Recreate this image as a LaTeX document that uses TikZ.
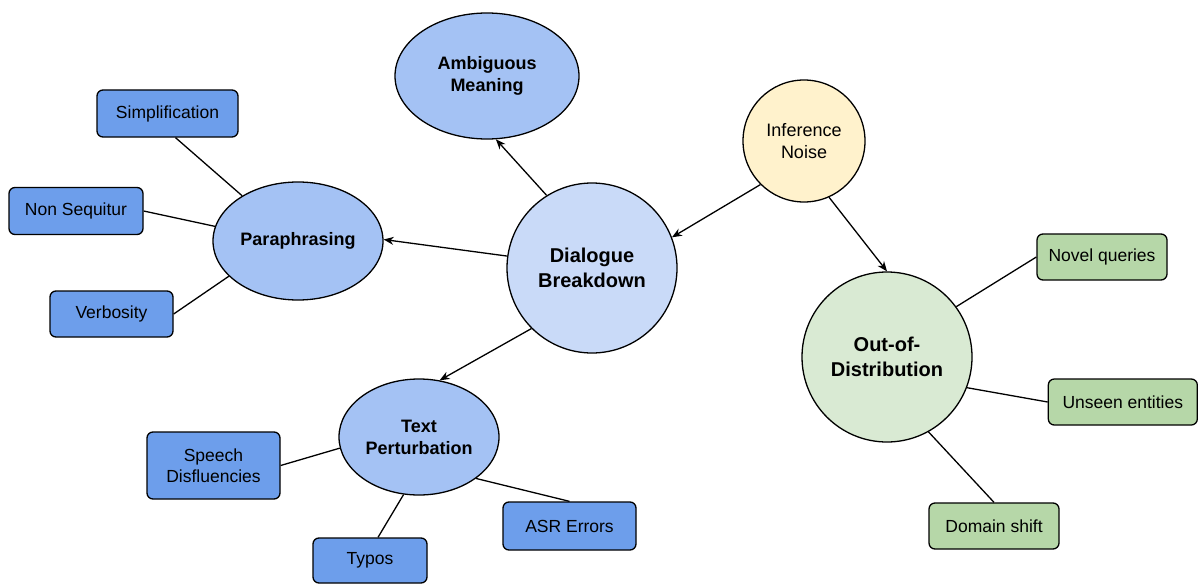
\documentclass[tikz,border=0pt]{standalone}
\usepackage{fontspec}
\setmainfont{Liberation Sans}
\usetikzlibrary{shapes.geometric,arrows.meta}
\definecolor{ellblue}{HTML}{A4C2F4}
\definecolor{lightblue}{HTML}{C9DAF8}
\definecolor{boxblue}{HTML}{6D9EEB}
\definecolor{noiseyellow}{HTML}{FFF2CC}
\definecolor{oodgreen}{HTML}{D9EAD3}
\definecolor{boxgreen}{HTML}{B6D7A8}
\tikzset{
  base/.style={draw=black, line width=1.3pt, inner sep=0pt, align=center, text=black},
  topic/.style={base, ellipse, fill=ellblue, font=\fontsize{18}{22}\selectfont\bfseries},
  hub/.style={base, circle, font=\fontsize{20}{25}\selectfont\bfseries},
  leafbox/.style={base, rectangle, rounded corners=6pt, font=\fontsize{17.5}{21}\selectfont},
  link/.style={line width=1.3pt, draw=black},
  arr/.style={link, -{Stealth[length=10pt,width=8pt]}}
}
\begin{document}
\begin{tikzpicture}[x=1pt,y=-1pt]
\useasboundingbox (0,0) rectangle (1198,583);
% main nodes
\node[topic, minimum width=184pt, minimum height=126pt] (am) at (487,76) {Ambiguous\\Meaning};
\node[hub, fill=noiseyellow, minimum size=122pt, font=\fontsize{18}{22}\selectfont] (in) at (804,141) {Inference\\Noise};
\node[hub, fill=lightblue, minimum size=170pt] (db) at (592,268) {Dialogue\\Breakdown};
\node[topic, minimum width=170pt, minimum height=118pt] (para) at (298,241) {Paraphrasing};
\node[topic, minimum width=160pt, minimum height=116pt] (tp) at (419,437) {Text\\Perturbation};
\node[hub, fill=oodgreen, minimum size=170pt] (ood) at (887,357) {Out-of-\\Distribution};
% leaf boxes
\node[leafbox, fill=boxblue, minimum width=141pt, minimum height=47pt] (simp) at (167.5,113.5) {Simplification};
\node[leafbox, fill=boxblue, minimum width=134pt, minimum height=47pt] (nonseq) at (76,211) {Non Sequitur};
\node[leafbox, fill=boxblue, minimum width=123pt, minimum height=46pt] (verb) at (111.5,314) {Verbosity};
\node[leafbox, fill=boxblue, minimum width=133pt, minimum height=67pt] (speech) at (213.5,465.5) {Speech\\Disfluencies};
\node[leafbox, fill=boxblue, minimum width=114pt, minimum height=45pt] (typos) at (370,560.5) {Typos};
\node[leafbox, fill=boxblue, minimum width=133pt, minimum height=48pt] (asr) at (569.5,526) {ASR Errors};
\node[leafbox, fill=boxgreen, minimum width=130pt, minimum height=46pt] (novel) at (1102,257) {Novel queries};
\node[leafbox, fill=boxgreen, minimum width=149pt, minimum height=46pt] (unseen) at (1122.8,402) {Unseen entities};
\node[leafbox, fill=boxgreen, minimum width=130pt, minimum height=46pt] (domain) at (994,526) {Domain shift};
% arrows
\draw[arr] (db.122) -- (am.-82);
\draw[arr] (db.172) -- (para.1);
\draw[arr] (db.225.5) -- (tp.70.4);
\draw[arr] (in.225) -- (db.21.6);
\draw[arr] (in.-66.9) -- (ood.90.7);
% plain links
\draw[link] ([xshift=8pt]simp.south) -- (para.141.8);
\draw[link] (nonseq.east) -- (para.170);
\draw[link] (verb.east) -- (para.207);
\draw[link] (speech.east) -- (tp.188);
\draw[link] ([xshift=8pt]typos.north) -- (tp.255);
\draw[link] (asr.north) -- (tp.-36.4);
\draw[link] (novel.west) -- (ood.36);
\draw[link] (unseen.west) -- (ood.-21);
\draw[link] (domain.north) -- (ood.-61.7);
\end{tikzpicture}
\end{document}
